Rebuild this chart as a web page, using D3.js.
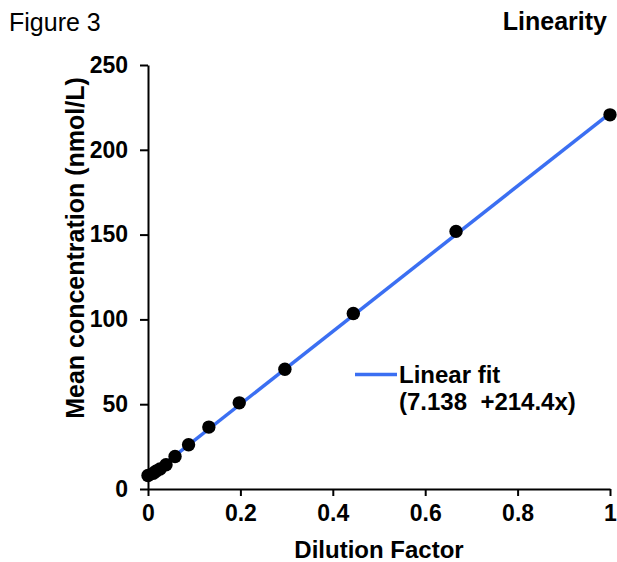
<!DOCTYPE html>
<html>
<head>
<meta charset="utf-8">
<script src="https://cdn.jsdelivr.net/npm/d3@7"></script>
<style>
  body { margin: 0; background: #fff; }
  svg { display: block; font-family: "Liberation Sans", Arial, sans-serif; }
  text { white-space: pre; }
</style>
</head>
<body>
<div class="content"></div>
<script>
// dilution factor vs measured mean concentration
var dilution = [1, 0.6667, 0.4444, 0.2963, 0.1975, 0.1317, 0.0878, 0.0585, 0.0390, 0.0260, 0.0173, 0.0116, 0];
var meanConc = [220.6, 151.9, 103.5, 70.6, 50.8, 36.5, 26.1, 19.2, 14.3, 11.8, 10.5, 9.3, 8.0];
var fit = { intercept: 7.138, slope: 214.4 };
var fitRange = [0, 1];
var xTicks = [0, 0.2, 0.4, 0.6, 0.8, 1];
var yTicks = [0, 50, 100, 150, 200, 250];

var chart = {
    width: 617,
    height: 562,
    left: 148,
    right: 610,
    top: 65,
    bottom: 489,
    blue: '#3b6ff2'
};

window.onload = function() {
    var svg = d3.select('.content').append('svg')
        .attr('width', chart.width)
        .attr('height', chart.height);

    var x = d3.scaleLinear().domain([0, 1]).range([chart.left, chart.right]);
    var y = d3.scaleLinear().domain([0, 250]).range([chart.bottom, chart.top]);

    svg.append('text')
        .attr('x', 9).attr('y', 31)
        .style('font-size', '25px')
        .text('Figure 3');

    svg.append('text')
        .attr('x', 607).attr('y', 30)
        .attr('text-anchor', 'end')
        .style('font-size', '25px')
        .style('font-weight', 'bold')
        .text('Linearity');

    var xAxis = svg.append('g')
        .attr('transform', 'translate(0,' + chart.bottom + ')')
        .call(d3.axisBottom(x).tickValues(xTicks).tickSize(7).tickSizeOuter(0).tickPadding(9)
            .tickFormat(function(d) { return d3.format('')(d); }));
    var yAxis = svg.append('g')
        .attr('transform', 'translate(' + chart.left + ',0)')
        .call(d3.axisLeft(y).tickValues(yTicks).tickSize(8).tickSizeOuter(0).tickPadding(12));

    [xAxis, yAxis].forEach(function(g) {
        g.selectAll('path, line').attr('stroke', '#000').attr('stroke-width', 2);
        g.selectAll('text')
            .attr('fill', '#000')
            .style('font-size', '23px')
            .style('font-weight', 'bold')
            .style('font-family', '"Liberation Sans", Arial, sans-serif');
    });
    xAxis.selectAll('text').attr('dy', '0.71em');

    svg.append('text')
        .attr('x', (chart.left + chart.right) / 2).attr('y', 558)
        .attr('text-anchor', 'middle')
        .style('font-size', '24px')
        .style('font-weight', 'bold')
        .text('Dilution Factor');

    svg.append('text')
        .attr('transform', 'translate(84,248) rotate(-90)')
        .attr('text-anchor', 'middle')
        .style('font-size', '25px')
        .style('font-weight', 'bold')
        .text('Mean concentration (nmol/L)');

    var line = d3.line()
        .x(function(d) { return x(d); })
        .y(function(d) { return y(fit.intercept + fit.slope * d); });
    svg.append('path')
        .attr('d', line(fitRange))
        .attr('fill', 'none')
        .attr('stroke', chart.blue)
        .attr('stroke-width', 3.5);

    svg.append('g').selectAll('circle')
        .data(dilution)
        .enter().append('circle')
        .attr('cx', function(d) { return x(d); })
        .attr('cy', function(d, i) { return y(meanConc[i]); })
        .attr('r', 6.7)
        .attr('fill', '#000');

    // legend
    var legend = svg.append('g');
    legend.append('line')
        .attr('x1', 355).attr('x2', 397)
        .attr('y1', 374.5).attr('y2', 374.5)
        .attr('stroke', chart.blue)
        .attr('stroke-width', 3.5);
    legend.append('text')
        .attr('x', 399).attr('y', 383)
        .style('font-size', '24px')
        .style('font-weight', 'bold')
        .text('Linear fit');
    legend.append('text')
        .attr('x', 399).attr('y', 410)
        .style('font-size', '24px')
        .style('font-weight', 'bold')
        .text('(' + fit.intercept + '  +' + fit.slope + 'x)');
}
</script>
</body>
</html>
